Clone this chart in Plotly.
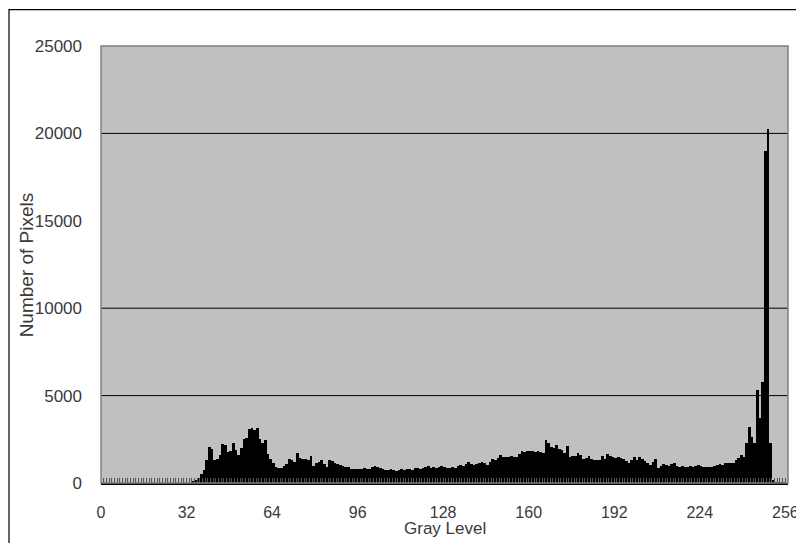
import plotly.graph_objects as go

gray_levels = list(range(256))
pixel_counts = (
    [0] * 34 +
    [60, 150, 300, 500, 750, 1300,                       # 34-39
     2050, 1950, 1300, 1400, 1600, 2250, 2200, 1800, 1850, 2300,   # 40-49
     1900, 1600, 2000, 2500, 2550, 3100, 3150, 3050, 3150, 2500,   # 50-59
     2300, 2450, 1650, 1400, 1150, 900, 850, 880, 950, 1100,       # 60-69
     1400, 1300, 1200, 1700, 1450, 1400, 1350, 1300, 1550, 950,    # 70-79
     1150, 1200, 1300, 1100, 920, 1300, 1250, 1150, 1100, 1030,    # 80-89
     950, 900, 920, 820, 800, 780, 800, 820, 870, 820,             # 90-99
     780, 900, 970, 900, 860, 780, 720, 750, 780, 720,             # 100-109
     700, 760, 800, 740, 780, 820, 760, 860, 830, 800,             # 110-119
     850, 900, 970, 880, 910, 870, 930, 970, 900, 860,             # 120-129
     880, 900, 860, 950, 1030, 980, 1100, 1200, 1100, 1030,        # 130-139
     1100, 1150, 1200, 1120, 1030, 1200, 1370, 1300, 1450, 1600,   # 140-149
     1500, 1500, 1480, 1520, 1490, 1500, 1650, 1830, 1800, 1850,   # 150-159
     1820, 1830, 1800, 1850, 1780, 1710, 2460, 2290, 2060, 2000,   # 160-169
     2170, 1950, 1890, 1710, 2110, 1490, 1520, 1540, 1710, 1600,   # 170-179
     1370, 1450, 1540, 1400, 1310, 1310, 1330, 1540, 1370, 1660,   # 180-189
     1550, 1490, 1450, 1490, 1420, 1370, 1250, 1140, 1300, 1490,   # 190-199
     1310, 1490, 1350, 1260, 1150, 1030, 1200, 1370, 860, 950,     # 200-209
     1090, 1050, 1000, 1100, 1140, 1000, 910, 950, 910, 940,       # 210-219
     970, 930, 1000, 1030, 950, 910, 920, 900, 910, 950,           # 220-229
     1030, 1090, 1050, 1140, 1120, 1150, 1140, 1300, 1430, 1600,   # 230-239
     1500, 2290, 3200, 2630, 2290, 5310, 3700, 5770, 19000, 20250, # 240-249
     2300, 150, 30, 30, 30, 30]                                    # 250-255
)
x_tick_vals = [0, 32, 64, 96, 128, 160, 192, 224, 256]
y_tick_vals = [0, 5000, 10000, 15000, 20000, 25000]
y_tick_text = ["0", "5000", "10000", "15000", "20000", "25000"]
grid_vals = [5000, 10000, 20000]

x_title = "Gray Level"
y_title = "Number of Pixels"

FONT = "Liberation Sans, Arial, sans-serif"
TXT = "#3a3a3a"

fig = go.Figure()
fig.add_trace(go.Bar(
    x=[g + 0.5 for g in gray_levels],
    y=pixel_counts,
    width=1,
    marker=dict(color="black", line=dict(width=0)),
    hoverinfo="x+y",
))

shapes = []
for gv in grid_vals:
    shapes.append(dict(type="line", xref="paper", yref="y", x0=0, x1=1, y0=gv, y1=gv,
                       line=dict(color="black", width=1), layer="below"))
# plot area border
shapes.append(dict(type="rect", xref="paper", yref="paper", x0=0, x1=1, y0=0, y1=1,
                   line=dict(color="#808080", width=1.5), layer="above"))
# outer chart frame
shapes.append(dict(type="rect", xref="paper", yref="paper", x0=(9 - 101) / 687, x1=1.2,
                   y0=-0.3, y1=1 + (45.5 - 9) / 437.5,
                   line=dict(color="black", width=1.2), layer="below"))

fig.update_layout(
    width=796, height=535,
    margin=dict(l=93, r=16, t=38, b=60),
    paper_bgcolor="white",
    plot_bgcolor="#C0C0C0",
    bargap=0,
    showlegend=False,
    shapes=shapes,
    font=dict(family=FONT, color=TXT, size=16),
    xaxis=dict(
        range=[0, 257], tickvals=x_tick_vals, showgrid=False, zeroline=False,
        showline=True, linecolor="black", linewidth=1.5,
        ticks="inside", ticklen=5, tickcolor="#555",
        minor=dict(ticks="inside", dtick=1, tick0=0, ticklen=5, tickcolor="#555", showgrid=False),
        ticklabelstandoff=14,
        tickfont=dict(size=16, color=TXT, family=FONT),
        automargin=False,
    ),
    yaxis=dict(
        range=[0, 25000], tickvals=y_tick_vals, ticktext=y_tick_text,
        showgrid=False, zeroline=False,
        showline=False, ticks="",
        ticklabelstandoff=18,
        tickfont=dict(size=17, color=TXT, family=FONT),
        automargin=False,
    ),
    annotations=[
        dict(text=x_title, xref="paper", yref="paper", x=0.5, y=-0.103,
             showarrow=False, font=dict(size=17, color=TXT, family=FONT),
             xanchor="center", yanchor="middle"),
        dict(text=y_title, xref="paper", yref="paper", x=(26 - 101) / 687, y=0.498,
             showarrow=False, textangle=-90, font=dict(size=19, color=TXT, family=FONT),
             xanchor="center", yanchor="middle"),
    ],
)

fig.write_html("out.html")
